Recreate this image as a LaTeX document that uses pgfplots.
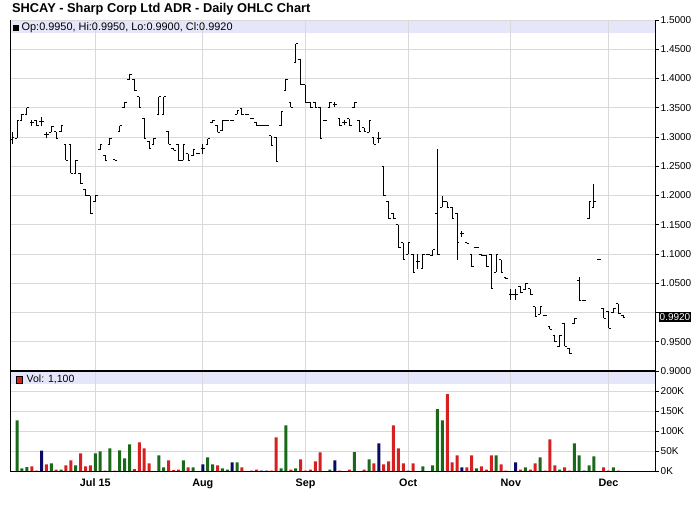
\documentclass[border=0pt]{standalone}
\usepackage{pgfplots}
\pgfplotsset{compat=1.18}
\usepackage{pgfplotstable}
\usepackage{fontspec}
\setmainfont{Liberation Sans}

\definecolor{gridc}{RGB}{217,217,217}
\definecolor{band}{RGB}{230,230,250}
\definecolor{volg}{RGB}{25,105,25}
\definecolor{volr}{RGB}{212,32,32}
\definecolor{voln}{RGB}{10,10,100}

% x = trading day from the first bar, o h l c = price, v = volume (K),
% k = colour of the volume bar (0 up, 1 down, 2 unchanged, 3 no bar)
\pgfplotstableread{
x o h l c v k
0 1.295 1.308 1.288 1.300 0 3
1 1.298 1.329 1.298 1.329 127 0
2 1.329 1.339 1.329 1.339 8 0
3 1.339 1.350 1.339 1.350 11 0
4 1.324 1.329 1.319 1.324 12.5 1
5 1.329 1.329 1.319 1.319 2.5 1
6 1.327 1.335 1.319 1.327 52 2
7 1.304 1.309 1.299 1.304 17.5 1
8 1.308 1.318 1.308 1.318 20 0
9 1.309 1.309 1.298 1.298 5 1
10 1.309 1.319 1.309 1.319 5 0
11 1.288 1.288 1.260 1.260 15 1
12 1.288 1.288 1.238 1.238 27.5 1
13 1.238 1.260 1.238 1.260 15 0
14 1.237 1.237 1.220 1.220 45 1
15 1.210 1.210 1.200 1.200 12.5 1
16 1.200 1.200 1.169 1.169 15 1
17 1.189 1.200 1.189 1.200 45 0
18 1.278 1.288 1.278 1.288 50 0
19 1.269 1.269 1.260 1.260 2.5 1
20 1.288 1.298 1.288 1.298 57.5 0
21 1.262 1.262 1.260 1.260 2.5 1
22 1.309 1.319 1.309 1.319 52.5 0
23 1.350 1.359 1.350 1.359 32.5 0
24 1.399 1.407 1.399 1.407 67.5 0
25 1.399 1.399 1.379 1.379 6 1
26 1.369 1.369 1.351 1.351 72.5 1
27 1.332 1.332 1.298 1.298 57.5 1
28 1.293 1.293 1.280 1.280 20 1
29 1.288 1.298 1.288 1.298 0 3
30 1.339 1.369 1.339 1.369 40 0
31 1.339 1.369 1.339 1.369 10 0
32 1.309 1.309 1.288 1.288 27.5 1
33 1.281 1.281 1.277 1.277 3.5 1
34 1.288 1.288 1.260 1.260 5 1
35 1.260 1.288 1.260 1.288 27.5 0
36 1.271 1.271 1.260 1.260 10 1
37 1.268 1.278 1.268 1.278 10 0
38 1.271 1.271 1.271 1.271 0 3
39 1.280 1.288 1.271 1.280 17.5 2
40 1.288 1.297 1.288 1.297 35 0
41 1.324 1.329 1.324 1.329 17.5 0
42 1.319 1.319 1.308 1.308 15 1
43 1.311 1.328 1.311 1.328 7.5 0
44 1.329 1.329 1.329 1.329 5 0
45 1.329 1.329 1.329 1.329 22.5 2
46 1.339 1.345 1.339 1.345 22.5 0
47 1.349 1.349 1.338 1.338 10 1
48 1.339 1.339 1.339 1.339 0 3
49 1.331 1.331 1.331 1.331 2.5 1
50 1.324 1.324 1.319 1.319 5 1
51 1.320 1.320 1.320 1.320 2.5 2
52 1.320 1.320 1.320 1.320 2.5 2
53 1.302 1.302 1.285 1.285 2.5 1
54 1.300 1.300 1.258 1.258 85 1
55 1.319 1.343 1.319 1.343 7.5 0
56 1.379 1.399 1.379 1.399 115 0
57 1.359 1.359 1.351 1.351 5 1
58 1.427 1.459 1.427 1.459 7.5 0
59 1.432 1.432 1.389 1.389 30 1
60 1.389 1.389 1.359 1.359 2.5 1
61 1.359 1.359 1.351 1.351 5 1
62 1.359 1.359 1.351 1.351 25 1
63 1.351 1.351 1.298 1.298 47.5 1
64 1.328 1.328 1.328 1.328 0 3
65 1.351 1.359 1.351 1.359 5 0
66 1.355 1.359 1.351 1.355 27.5 2
67 1.331 1.331 1.319 1.319 2.5 1
68 1.325 1.329 1.320 1.325 0 3
69 1.331 1.331 1.319 1.319 5 1
70 1.350 1.359 1.350 1.359 48 0
71 1.329 1.329 1.310 1.310 1 1
72 1.316 1.316 1.310 1.310 5 1
73 1.308 1.329 1.308 1.329 30 0
74 1.300 1.300 1.288 1.288 20 1
75 1.298 1.308 1.289 1.298 70 2
76 1.250 1.250 1.200 1.200 17.5 1
77 1.189 1.189 1.160 1.160 25 1
78 1.170 1.170 1.160 1.160 115 1
79 1.150 1.150 1.111 1.111 57.5 1
80 1.119 1.119 1.090 1.090 20 1
81 1.100 1.119 1.100 1.119 2.5 0
82 1.100 1.100 1.069 1.069 20 1
83 1.088 1.100 1.075 1.088 0 3
84 1.075 1.100 1.075 1.100 12.5 0
85 1.099 1.099 1.099 1.099 0 3
86 1.098 1.107 1.098 1.107 15 0
87 1.170 1.280 1.098 1.100 155 0
88 1.180 1.200 1.180 1.190 127.5 0
89 1.189 1.189 1.180 1.180 192.5 1
90 1.180 1.180 1.160 1.160 22.5 1
91 1.170 1.170 1.090 1.120 40 1
92 1.135 1.140 1.129 1.135 10 2
93 1.120 1.120 1.118 1.118 10 1
94 1.100 1.100 1.078 1.078 40 1
95 1.111 1.111 1.111 1.111 7.5 0
96 1.100 1.100 1.097 1.097 12.5 1
97 1.098 1.098 1.078 1.078 5 1
98 1.100 1.100 1.041 1.041 40 1
99 1.069 1.100 1.069 1.100 40 0
100 1.090 1.090 1.069 1.069 17.5 1
101 1.060 1.060 1.058 1.058 2.5 1
102 1.031 1.041 1.021 1.031 0 3
103 1.031 1.041 1.021 1.031 22.5 2
104 1.044 1.044 1.034 1.034 5 1
105 1.039 1.049 1.039 1.049 10 0
106 1.041 1.041 1.031 1.031 5 1
107 1.010 1.010 0.994 0.994 20 1
108 0.997 1.010 0.997 1.010 35 0
109 0.995 0.995 0.995 0.995 2.5 1
110 0.976 0.976 0.971 0.971 80 1
111 0.961 0.961 0.950 0.950 15 1
112 0.942 0.961 0.942 0.961 5 0
113 0.981 0.981 0.942 0.942 10 1
114 0.939 0.939 0.930 0.930 2.5 1
115 0.981 0.990 0.981 0.990 70 0
116 1.055 1.061 1.021 1.021 40 0
117 1.021 1.021 1.021 1.021 2.5 2
118 1.160 1.189 1.160 1.189 15 0
119 1.179 1.220 1.179 1.190 37.5 0
120 1.090 1.090 1.090 1.090 0 3
121 1.007 1.007 0.990 0.990 10 1
122 1.001 1.001 0.973 0.973 2.5 1
123 1.000 1.007 1.000 1.007 10 0
124 1.015 1.015 0.998 0.998 2.5 1
125 0.995 0.995 0.990 0.992 1.1 1
}\ohlc

\pgfplotsset{
  chartbase/.style={
    scale only axis, anchor=north west, width=645pt,
    xmin=-0.45, xmax=131.5,
    axis line style={draw=none},
    xtick={17,39,60,81,102,122},
    grid=major, major grid style={gridc, line width=0.8pt},
    ytick pos=right, yticklabel pos=right,
    tick align=outside, major tick length=4pt,
    ytick style={black, line width=0.6pt}, xtick style={draw=none},
    yticklabel style={font=\fontsize{10}{12}\selectfont, inner sep=1.5pt},
  },
  hl/.style={draw=none, mark=none,
    error bars/error mark=none,
    error bars/error bar style={draw=black, line width=1pt}},
}

\begin{document}
\begin{tikzpicture}
\path[use as bounding box] (0,0) rectangle (700pt,-512pt);
\fill[band] (10pt,-20pt) rectangle (655pt,-33pt);
\fill[band] (10pt,-371pt) rectangle (655pt,-384pt);
\node[anchor=base west, inner sep=0pt, font=\bfseries\fontsize{12.8}{14}\selectfont]
  at (12pt,-12.7pt) {SHCAY - Sharp Corp Ltd ADR - Daily OHLC Chart};

% price panel
\begin{axis}[chartbase,
  at={(10pt,-20pt)}, height=351pt,
  ymin=0.9, ymax=1.5,
  xticklabels={},
  ytick={0.90,0.95,1.00,1.05,1.10,1.15,1.20,1.25,1.30,1.35,1.40,1.45,1.50},
  yticklabels={0.9000,0.9500,{},1.0500,1.1000,1.1500,1.2000,1.2500,1.3000,1.3500,1.4000,1.4500,1.5000},
]
% high-low
\addplot[hl, error bars/.cd, y dir=plus, y explicit]
  table[x=x, y=l, y error expr=\thisrow{h}-\thisrow{l}] {\ohlc};
% open
\addplot[hl, error bars/.cd, x dir=minus, x fixed=0.45]
  table[x=x, y=o] {\ohlc};
% close
\addplot[hl, error bars/.cd, x dir=plus, x fixed=0.45]
  table[x=x, y=c] {\ohlc};
\end{axis}

% volume panel
\begin{axis}[chartbase,
  at={(10pt,-371pt)}, height=100.5pt,
  ymin=0, ymax=250,
  xticklabels={Jul 15,Aug,Sep,Oct,Nov,Dec},
  xticklabel style={font=\bfseries\fontsize{10.8}{12}\selectfont},
  ytick={0,50,100,150,200},
  yticklabels={0K,50K,100K,150K,200K},
]
\addplot[ybar, bar width=3pt, bar shift=0pt, fill=volg, draw=none,
  restrict expr to domain={\thisrow{k}}{0:0}] table[x=x, y=v] {\ohlc};
\addplot[ybar, bar width=3pt, bar shift=0pt, fill=volr, draw=none,
  restrict expr to domain={\thisrow{k}}{1:1}] table[x=x, y=v] {\ohlc};
\addplot[ybar, bar width=3pt, bar shift=0pt, fill=voln, draw=none,
  restrict expr to domain={\thisrow{k}}{2:2}] table[x=x, y=v] {\ohlc};
\end{axis}

% frame
\draw[black, line width=1pt] (10pt,-20pt) -- (10pt,-471.5pt);
\draw[black, line width=1pt] (655pt,-20pt) -- (655pt,-471.5pt);
\draw[black, line width=2pt] (10pt,-371pt) -- (655pt,-371pt);
\draw[black, line width=1pt] (10pt,-471.5pt) -- (655pt,-471.5pt);

% panel legends and last price
\node[anchor=base west, inner sep=0pt, font=\fontsize{10.9}{12}\selectfont] at (13pt,-30.5pt)
  {\rule{6pt}{6pt}\hspace{2.5pt}Op:0.9950, Hi:0.9950, Lo:0.9900, Cl:0.9920};
\node[anchor=base west, inner sep=0pt, font=\fontsize{10.5}{12}\selectfont] at (15.5pt,-382.5pt)
  {\setlength{\fboxsep}{0pt}\setlength{\fboxrule}{0.5pt}\fcolorbox{black}{volr}{\rule{0pt}{6pt}\hspace{6pt}}\hspace{4pt}Vol: 1,100};
\node[fill=black, text=white, anchor=west, inner xsep=1pt, inner ysep=1.5pt,
  font=\fontsize{10}{12}\selectfont] at (658.5pt,-317.2pt) {0.9920};
\end{tikzpicture}
\end{document}
